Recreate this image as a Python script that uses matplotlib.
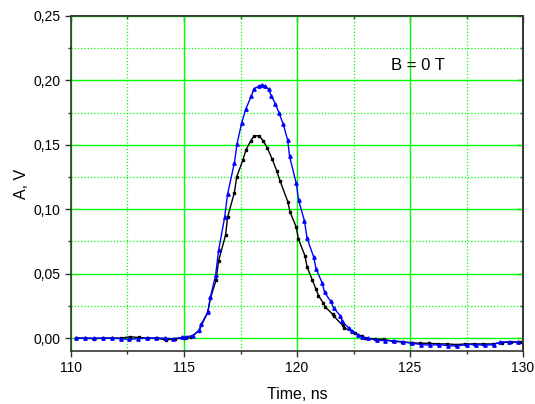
import numpy as np
import matplotlib
matplotlib.use("Agg")
import matplotlib.pyplot as plt
from matplotlib.ticker import MultipleLocator, FuncFormatter

plt.rcParams["font.family"] = ["Liberation Sans", "DejaVu Sans"]

# black curve (squares)
t_black = [110.2, 110.6, 111.0, 111.4, 111.8, 112.2, 112.6, 113.0, 113.4, 113.8,
           114.2, 114.6, 115.0, 115.3, 115.66, 115.77, 116.05, 116.17, 116.42, 116.53,
           116.84, 116.93, 117.23, 117.33, 117.6, 117.74, 117.95, 118.1, 118.32, 118.51,
           118.69, 118.9, 119.1, 119.25, 119.59, 119.69, 119.97, 120.06, 120.35, 120.45,
           120.68, 120.84, 120.95, 121.17, 121.26, 121.58, 121.64, 122.02, 122.1, 122.44,
           122.55, 122.86, 123.0, 123.45, 123.85, 124.25, 124.65, 125.05, 125.45, 125.85,
           126.25, 126.65, 127.05, 127.45, 127.85, 128.25, 128.65, 129.05, 129.45, 129.85]
a_black = [0.000, 0.000, -0.0005, 0.000, 0.000, 0.000, 0.001, 0.0005, 0.000, 0.000,
           -0.0015, -0.0005, 0.000, 0.001, 0.0055, 0.010, 0.020, 0.031, 0.045, 0.060,
           0.080, 0.094, 0.113, 0.125, 0.138, 0.146, 0.153, 0.157, 0.157, 0.153,
           0.1475, 0.139, 0.130, 0.122, 0.106, 0.098, 0.086, 0.077, 0.064, 0.055,
           0.045, 0.038, 0.033, 0.027, 0.024, 0.0185, 0.0168, 0.010, 0.008, 0.005,
           0.0038, 0.0016, 0.0003, -0.0008, -0.001, -0.0025, -0.003, -0.0035, -0.004, -0.004,
           -0.0045, -0.0045, -0.005, -0.0045, -0.0045, -0.0045, -0.0045, -0.0035, -0.003, -0.003]

# blue curve (triangles)
t_blue = [110.2, 110.6, 111.0, 111.4, 111.8, 112.2, 112.55, 112.95, 113.35, 113.75,
          114.15, 114.5, 114.9, 115.1, 115.4, 115.66, 115.77, 116.05, 116.17, 116.4,
          116.53, 116.8, 116.93, 117.23, 117.35, 117.55, 117.74, 117.98, 118.1, 118.33,
          118.45, 118.57, 118.75, 118.86, 119.04, 119.2, 119.39, 119.59, 119.67, 119.97,
          120.07, 120.33, 120.44, 120.74, 120.84, 121.12, 121.22, 121.49, 121.62, 121.92,
          122.0, 122.31, 122.42, 122.68, 122.86, 123.14, 123.53, 123.9, 124.3, 124.7,
          125.1, 125.5, 125.9, 126.3, 126.7, 127.1, 127.5, 127.9, 128.3, 128.7,
          129.0, 129.4, 129.8]
a_blue = [0.000, 0.000, 0.000, 0.000, 0.000, -0.0005, -0.001, -0.0005, 0.000, 0.000,
          0.000, -0.0005, 0.0005, 0.001, 0.002, 0.006, 0.011, 0.020, 0.032, 0.049,
          0.068, 0.094, 0.112, 0.136, 0.151, 0.167, 0.178, 0.188, 0.1936, 0.1957,
          0.1964, 0.1957, 0.193, 0.188, 0.182, 0.175, 0.166, 0.1535, 0.141, 0.120,
          0.107, 0.091, 0.078, 0.0627, 0.054, 0.0425, 0.0355, 0.0285, 0.0235, 0.0172,
          0.013, 0.0075, 0.0054, 0.0023, 0.001, -0.0003, -0.0015, -0.002, -0.002, -0.003,
          -0.004, -0.005, -0.0055, -0.005, -0.006, -0.006, -0.005, -0.005, -0.0055, -0.005,
          -0.003, -0.003, -0.003]

x_ticks = [110, 115, 120, 125, 130]
y_ticks = [0.00, 0.05, 0.10, 0.15, 0.20, 0.25]

fig = plt.figure(figsize=(5.35, 4.04), dpi=100)
ax = fig.add_axes([0.1327, 0.1312, 0.8449, 0.8292])

ax.set_xlim(110, 130)
ax.set_ylim(-0.01, 0.25)
ax.set_xticks(x_ticks)
ax.set_yticks(y_ticks)
ax.xaxis.set_minor_locator(MultipleLocator(2.5))
ax.yaxis.set_minor_locator(MultipleLocator(0.025))
ax.yaxis.set_major_formatter(FuncFormatter(lambda v, p: f"{v:.2f}".replace(".", ",")))

ax.grid(True, which="major", color="#00ff00", linewidth=1.0, linestyle="-")
ax.grid(True, which="minor", color="#00ff00", linewidth=0.9, linestyle=(0, (1, 1.6)))
ax.set_axisbelow(True)

ax.plot(t_black, a_black, color="black", linewidth=1.0, marker="s", markersize=1.9)
ax.plot(t_blue, a_blue, color="#0000ff", linewidth=1.0, marker="^", markersize=2.4)

for s in ax.spines.values():
    s.set_color("#333333")
    s.set_linewidth(1.2)

ax.tick_params(which="major", direction="out", length=4, width=1, labelsize=10,
               color="#333333")
ax.tick_params(which="minor", direction="out", length=2.5, width=1, color="#333333")

# inward ticks on top and right
top = ax.secondary_xaxis("top")
top.set_xticks(x_ticks)
top.xaxis.set_minor_locator(MultipleLocator(2.5))
top.tick_params(which="major", direction="in", length=4, width=1, labeltop=False, color="#333333")
top.tick_params(which="minor", direction="in", length=2.5, width=1, color="#333333")
right = ax.secondary_yaxis("right")
right.set_yticks(y_ticks)
right.yaxis.set_minor_locator(MultipleLocator(0.025))
right.tick_params(which="major", direction="in", length=4, width=1, labelright=False, color="#333333")
right.tick_params(which="minor", direction="in", length=2.5, width=1, color="#333333")
for sa in (top, right):
    for s in sa.spines.values():
        s.set_color("#333333")
        s.set_linewidth(1.2)

ax.set_xlabel("Time, ns", fontsize=11.5, labelpad=8)
ax.set_ylabel("A, V", fontsize=11.5, labelpad=3)
ax.text(0.708, 0.851, "B = 0 T", transform=ax.transAxes, fontsize=12,
        ha="left", va="center")

fig.savefig("out.png", dpi=100)
